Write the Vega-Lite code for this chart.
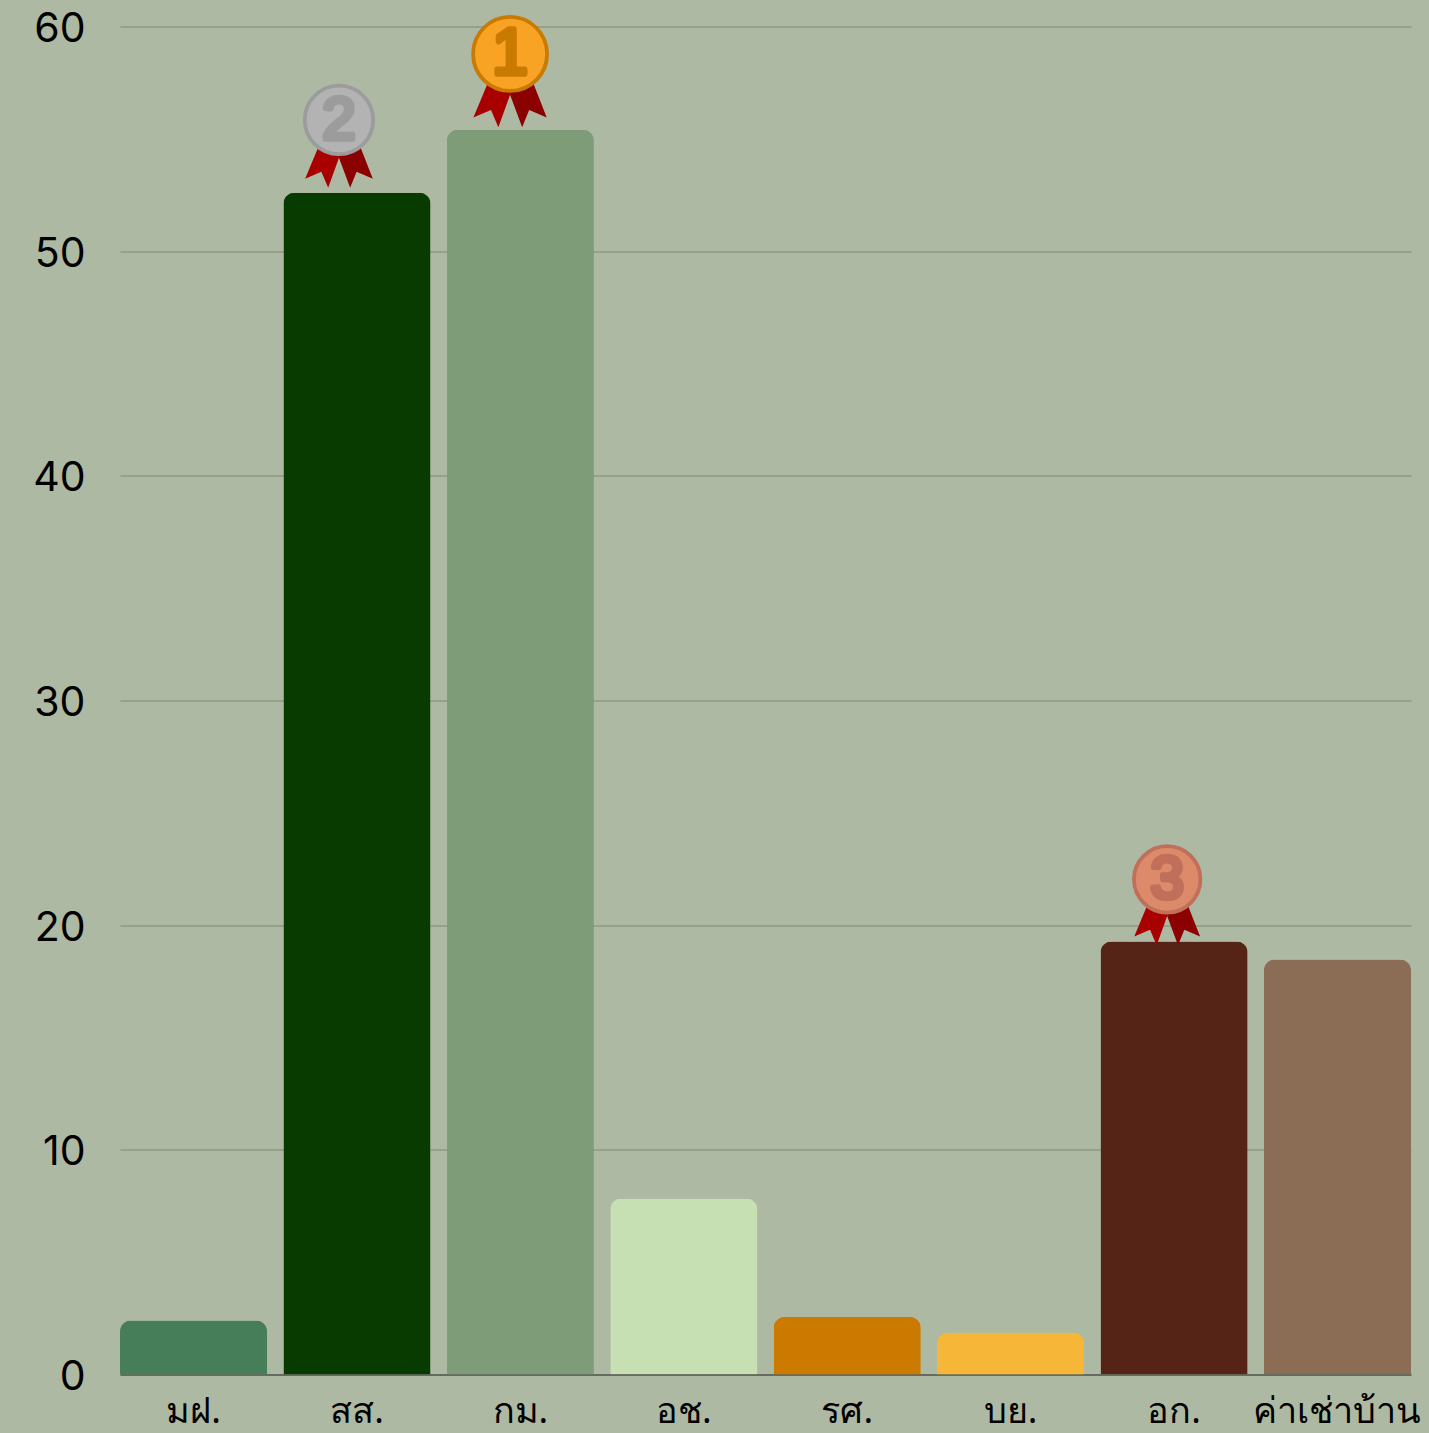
{
"$schema":"https://vega.github.io/schema/vega-lite/v6.json",
"width":1291,"height":1348,
"autosize":{"type":"none"},
"padding":{"left":120,"top":26.5,"right":18,"bottom":58.5},
"background":"#aeb9a3",
"config":{"view":{"stroke":null},"font":"Noto Sans"},
"datasets":{
"bars":[
{"cat":"มฝ.","value":2.4},{"cat":"สส.","value":52.6},{"cat":"กม.","value":55.4},{"cat":"อช.","value":7.83},
{"cat":"รศ.","value":2.56},{"cat":"บย.","value":1.87},{"cat":"อก.","value":19.27},{"cat":"ค่าเช่าบ้าน","value":18.47}],
"medals":[
{"rank":"1","pos":2.387,"level":58.78},
{"rank":"2","pos":1.34,"level":55.84},
{"rank":"3","pos":6.408,"level":22.04}]
},
"layer":[
{"data":{"name":"bars"},
 "mark":{"type":"bar","cornerRadiusTopLeft":11,"cornerRadiusTopRight":11},
 "encoding":{
  "x":{"field":"cat","type":"nominal","sort":null,"scale":{"paddingInner":0.1,"paddingOuter":0},
   "axis":{"title":null,"labelAngle":0,"ticks":false,"domain":true,"domainColor":"#555b50","domainWidth":1.5,"grid":false,"labelFontSize":36,"labelColor":"#000","labelPadding":20,"labelFont":"Noto Sans","labelOverlap":false,"labelBound":false,"labelFlush":false}},
  "y":{"field":"value","type":"quantitative","scale":{"domain":[0,60],"nice":false},
   "axis":{"title":null,"values":[0,10,20,30,40,50,60],"ticks":false,"domain":false,"grid":true,"gridColor":"#7f8a72","gridWidth":1.2,"labelFontSize":41,"labelColor":"#000","labelPadding":35,"labelFont":"Inter","labelOffset":3}},
  "color":{"field":"cat","type":"nominal","sort":null,"legend":null,"scale":{
   "domain":["มฝ.","สส.","กม.","อช.","รศ.","บย.","อก.","ค่าเช่าบ้าน"],
   "range":["#457e58","#083b00","#7e9c78","#c7e0b3","#cc7900","#f6b738","#552416","#8b6c54"]}}
 }},
{"data":{"name":"medals"},
 "mark":{"type":"point","filled":true,"opacity":1,"strokeWidth":0,"color":"#a80000","shape":"M-0.59,0.79 L-0.94,1.63 L-0.49,1.44 L-0.3,1.88 L0,1.05 L0,0.5 L-0.59,0.5 Z"},
 "encoding":{
  "x":{"field":"pos","type":"quantitative","scale":{"domain":[0,7.9],"nice":false,"zero":false},"axis":null},
  "y":{"field":"level","type":"quantitative"},
  "size":{"field":"rank","type":"nominal","legend":null,"scale":{"type":"ordinal","domain":["1","2","3"],"range":[6084,5184,4900]}}
 }},
{"data":{"name":"medals"},
 "mark":{"type":"point","filled":true,"opacity":1,"strokeWidth":0,"color":"#8b0000","shape":"M0.61,0.79 L0.94,1.63 L0.49,1.44 L0.31,1.88 L0,1.05 L0,0.5 L0.61,0.5 Z"},
 "encoding":{
  "x":{"field":"pos","type":"quantitative","scale":{"domain":[0,7.9],"nice":false,"zero":false},"axis":null},
  "y":{"field":"level","type":"quantitative"},
  "size":{"field":"rank","type":"nominal","legend":null,"scale":{"type":"ordinal","domain":["1","2","3"],"range":[6084,5184,4900]}}
 }},
{"data":{"name":"medals"},
 "mark":{"type":"point","shape":"circle","filled":true,"opacity":1,"strokeWidth":3.8},
 "encoding":{
  "x":{"field":"pos","type":"quantitative","scale":{"domain":[0,7.9],"nice":false,"zero":false},"axis":null},
  "y":{"field":"level","type":"quantitative"},
  "size":{"field":"rank","type":"nominal","legend":null,"scale":{"type":"ordinal","domain":["1","2","3"],"range":[5476,4692,4422]}},
  "fill":{"field":"rank","type":"nominal","legend":null,"scale":{"domain":["1","2","3"],"range":["#f9a325","#b3b3b3","#dc8a6a"]}},
  "stroke":{"field":"rank","type":"nominal","legend":null,"scale":{"domain":["1","2","3"],"range":["#c97a00","#9c9c9c","#c0705a"]}}
 }},
{"data":{"name":"medals"},
 "mark":{"type":"text","font":"Liberation Sans","strokeWidth":5.5,"strokeJoin":"round","strokeCap":"round","align":"center","baseline":"middle","dy":1},
 "encoding":{
  "x":{"field":"pos","type":"quantitative","scale":{"domain":[0,7.9],"nice":false,"zero":false},"axis":null},
  "y":{"field":"level","type":"quantitative"},
  "text":{"field":"rank","type":"nominal"},
  "size":{"field":"rank","type":"nominal","legend":null,"scale":{"type":"ordinal","domain":["1","2","3"],"range":[64,60,60]}},
  "fill":{"field":"rank","type":"nominal","legend":null,"scale":{"domain":["1","2","3"],"range":["#c97a00","#9c9c9c","#c0705a"]}},
  "stroke":{"field":"rank","type":"nominal","legend":null,"scale":{"domain":["1","2","3"],"range":["#c97a00","#9c9c9c","#c0705a"]}}
 }}
],
"resolve":{"scale":{"x":"independent","size":"independent","fill":"independent","stroke":"independent"}}
}
